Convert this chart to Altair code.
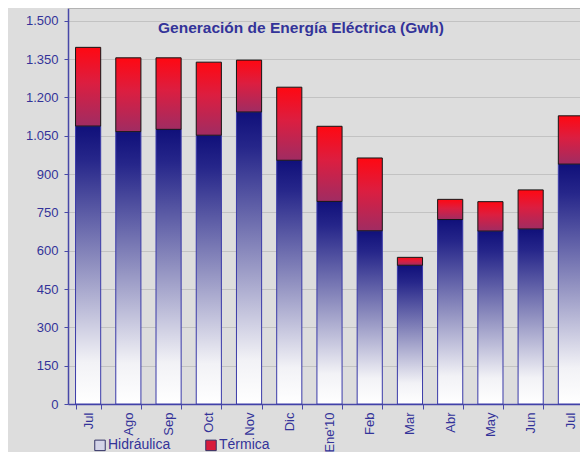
import json
import altair as alt
import pandas as pd

# ---- data ----
months = ["Jul", "Ago", "Sep", "Oct", "Nov", "Dic", "Ene'10", "Feb", "Mar", "Abr", "May", "Jun", "Jul"]
hydro = [1088, 1066, 1075, 1052, 1143, 954, 793, 678, 543, 722, 677, 685, 939]
thermal = [308, 289, 280, 286, 203, 286, 294, 285, 31, 79, 115, 153, 189]
series = ["Hidráulica", "Térmica"]
y_ticks = [0, 150, 300, 450, 600, 750, 900, 1050, 1200, 1350, 1500]
title_text = "Generación de Energía Eléctrica (Gwh)"

FONT = "Liberation Sans"
TXT = "#333399"
AXIS = "#4848a8"

df = pd.DataFrame({"pos": list(range(len(months))), "hydro": hydro, "thermal": thermal})

blue_grad = alt.LinearGradient(
    gradient="linear", x1=0, x2=0, y1=0, y2=1,
    stops=[
        alt.GradientStop(offset=0, color="#10107a"),
        alt.GradientStop(offset=0.12, color="#26268a"),
        alt.GradientStop(offset=0.5, color="#9090c0"),
        alt.GradientStop(offset=0.85, color="#f2f2f6"),
        alt.GradientStop(offset=1, color="#ffffff"),
    ],
)
red_grad = alt.LinearGradient(
    gradient="linear", x1=0, x2=0, y1=0, y2=1,
    stops=[
        alt.GradientStop(offset=0, color="#ff0812"),
        alt.GradientStop(offset=0.45, color="#dc1e40"),
        alt.GradientStop(offset=1, color="#a02c62"),
    ],
)

# the reference plot area runs past the right edge of the picture
x_enc = alt.X(
    "pos:O",
    scale=alt.Scale(paddingInner=0.375, paddingOuter=0.1875, range=[0, 523]),
    axis=alt.Axis(
        title=None,
        labelExpr=f"{json.dumps(months)}[datum.value]",
        labelAngle=-90,
        tickBand="extent",
        tickSize=5,
        tickColor=AXIS,
        domainColor=AXIS,
        domainWidth=1.5,
        labelPadding=3,
        labelFont=FONT,
        labelFontSize=13,
        labelColor=TXT,
        grid=False,
    ),
)
y_scale = alt.Scale(domain=[0, 1550], nice=False)
y_axis = alt.Axis(
    title=None,
    values=y_ticks,
    labelExpr="replace(format(datum.value, ','), ',', '.')",
    tickSize=4,
    tickColor=AXIS,
    domainColor=AXIS,
    domainWidth=1.5,
    labelPadding=6,
    labelFont=FONT,
    labelFontSize=13,
    labelColor=TXT,
    grid=True,
    gridColor="#c2c2c2",
    gridWidth=1,
)

base = alt.Chart(df)

hydro_bars = base.mark_bar(fill=blue_grad, stroke="#3a3aa8", strokeWidth=1, fillOpacity=1).encode(
    x=x_enc,
    y=alt.Y("hydro:Q", scale=y_scale, axis=y_axis),
)
thermal_bars = base.transform_calculate(top="datum.hydro + datum.thermal").mark_bar(
    fill=red_grad, stroke="#151515", strokeWidth=1, fillOpacity=1
).encode(
    x=x_enc,
    y=alt.Y("hydro:Q", scale=y_scale, axis=y_axis),
    y2="top:Q",
)

frame_top = alt.Chart(pd.DataFrame({"v": [1550]})).mark_rule(color="#a4a4a4", strokeWidth=1.5).encode(
    y=alt.Y("v:Q", scale=y_scale, axis=y_axis)
)

legend_layer = alt.Chart(pd.DataFrame({"serie": series})).mark_square(opacity=0).encode(
    color=alt.Color(
        "serie:N",
        scale=alt.Scale(domain=series, range=["#d4d4e8", "#d81a3c"]),
        legend=alt.Legend(
            title=None,
            orient="none",
            direction="horizontal",
            legendX=25,
            legendY=430,
            padding=0,
            symbolType="square",
            symbolSize=110,
            symbolOpacity=1,
            symbolStrokeColor="#333366",
            symbolStrokeWidth=1,
            labelFont=FONT,
            labelFontSize=14,
            labelColor=TXT,
            labelOffset=1,
            columnPadding=32,
        ),
    )
)

title_layer = alt.Chart(pd.DataFrame({"t": [title_text]})).mark_text(
    font=FONT, fontSize=15.5, fontWeight="bold", color=TXT, align="center", baseline="alphabetic"
).encode(text="t:N", x=alt.value(233), y=alt.value(25))

chart = alt.layer(frame_top, hydro_bars, thermal_bars, legend_layer, title_layer).properties(
    width=512,
    height=396,
    autosize=alt.AutoSizeParams(type="none"),
    padding={"left": 60, "top": 0, "right": 0, "bottom": 48},
    background="#dddddd",
).configure_view(stroke=None)

chart.save("out.html", embed_options={"renderer": "svg", "actions": False})
